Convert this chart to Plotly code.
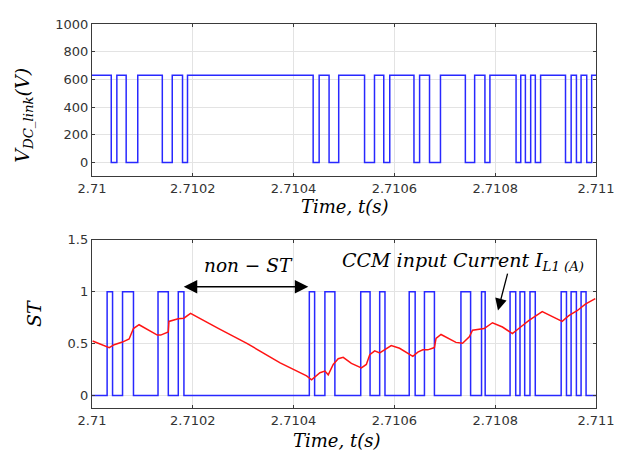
import plotly.graph_objects as go

# ---------------- data ----------------
T_START = 2.71
T_END = 2.711

# Top panel: DC-link voltage drops to 0 during these intervals (s)
VDC_LOW_START = [2.7100382, 2.7100678, 2.7101395, 2.7101796, 2.7104388, 2.7104704,
                 2.7105408, 2.7105789, 2.7106388, 2.7106697, 2.7107408, 2.7107796,
                 2.7108414, 2.7108599, 2.7108796, 2.7109395, 2.7109612, 2.7109816]
VDC_LOW_END = [2.7100493, 2.7100908, 2.7101592, 2.7101895, 2.7104507, 2.7104895,
               2.7105605, 2.7105908, 2.7106500, 2.7106914, 2.7107592, 2.7107895,
               2.7108507, 2.7108704, 2.7108901, 2.7109507, 2.7109704, 2.7109914]
VDC_HIGH = 630
VDC_LOW = 0

# Bottom panel: shoot-through (ST) pulses (s)
ST_ON = [2.7100300, 2.7100606, 2.7101310, 2.7101712, 2.7104312, 2.7104621,
         2.7105332, 2.7105708, 2.7106294, 2.7106596, 2.7107320, 2.7107729,
         2.7108295, 2.7108492, 2.7108690, 2.7109309, 2.7109506, 2.7109704]
ST_OFF = [2.7100408, 2.7100823, 2.7101514, 2.7101824, 2.7104417, 2.7104819,
          2.7105517, 2.7105813, 2.7106412, 2.7106794, 2.7107512, 2.7107801,
          2.7108407, 2.7108585, 2.7108795, 2.7109414, 2.7109611, 2.7109803]

# CCM input current I_L1 (A), vertices
I_T = [2.7100012, 2.7100342, 2.7100440, 2.7100604, 2.7100737, 2.7100822, 2.7100934,
       2.7101296, 2.7101363, 2.7101513, 2.7101527, 2.7101710, 2.7101823, 2.7101955,
       2.7102514, 2.7103073, 2.7103733, 2.7104258, 2.7104357, 2.7104456, 2.7104523,
       2.7104622, 2.7104687, 2.7104786, 2.7104885, 2.7104984, 2.7105147, 2.7105345,
       2.7105443, 2.7105511, 2.7105609, 2.7105708, 2.7105807, 2.7105937, 2.7106103,
       2.7106366, 2.7106465, 2.7106563, 2.7106662, 2.7106794, 2.7106826, 2.7106925,
       2.7107221, 2.7107353, 2.7107486, 2.7107551, 2.7107782, 2.7107946, 2.7108144,
       2.7108341, 2.7108505, 2.7108671, 2.7108933, 2.7109164, 2.7109328, 2.7109461,
       2.7109625, 2.7109789, 2.7109986]
I_V = [0.525, 0.462, 0.490, 0.515, 0.544, 0.645, 0.682,
       0.582, 0.582, 0.613, 0.714, 0.739, 0.745, 0.792,
       0.645, 0.503, 0.314, 0.189, 0.151, 0.189, 0.220,
       0.236, 0.200, 0.300, 0.355, 0.368, 0.310, 0.267,
       0.300, 0.393, 0.430, 0.410, 0.440, 0.481, 0.455,
       0.377, 0.418, 0.440, 0.440, 0.462, 0.550, 0.588,
       0.512, 0.503, 0.566, 0.629, 0.645, 0.701, 0.660,
       0.597, 0.660, 0.723, 0.808, 0.755, 0.714, 0.770,
       0.817, 0.880, 0.934]

X_TICKS = [2.71, 2.7102, 2.7104, 2.7106, 2.7108, 2.711]
X_TICK_TEXT = ["2.71", "2.7102", "2.7104", "2.7106", "2.7108", "2.711"]
Y1_TICKS = [0, 200, 400, 600, 800, 1000]
Y2_TICKS = [0, 0.5, 1, 1.5]
Y2_TICK_TEXT = ["0", "0.5", "1", "1.5"]

# ---------------- build step waveforms ----------------
vx = [T_START]
vy = [VDC_HIGH]
for a, b in zip(VDC_LOW_START, VDC_LOW_END):
    vx += [a, b]
    vy += [VDC_LOW, VDC_HIGH]
vx.append(T_END)
vy.append(VDC_HIGH)

sx = [T_START]
sy = [0]
for a, b in zip(ST_ON, ST_OFF):
    sx += [a, b]
    sy += [1, 0]
sx.append(T_END)
sy.append(0)

BLUE = "rgb(40,40,255)"
RED = "rgb(255,20,20)"

fig = go.Figure()
fig.add_trace(go.Scatter(x=vx, y=vy, mode="lines", line=dict(color=BLUE, width=1.5, shape="hv"),
                         xaxis="x", yaxis="y", showlegend=False))
fig.add_trace(go.Scatter(x=sx, y=sy, mode="lines", line=dict(color=BLUE, width=1.5, shape="hv"),
                         xaxis="x2", yaxis="y2", showlegend=False))
fig.add_trace(go.Scatter(x=I_T, y=I_V, mode="lines", line=dict(color=RED, width=1.5),
                         xaxis="x2", yaxis="y2", showlegend=False))

TICKFONT = dict(family="DejaVu Sans", size=13, color="#333333")
SERIF = "DejaVu Serif"
axis_common = dict(showgrid=True, gridcolor="#e3e3e3", gridwidth=1, zeroline=False,
                   showline=True, linecolor="#3a3a3a", linewidth=1.3, mirror="ticks",
                   ticks="inside", ticklen=3, tickcolor="#3a3a3a", tickfont=TICKFONT)

# page body has an 8px margin, so the figure is sized/offset to compensate
fig.update_layout(
    width=616, height=454,
    paper_bgcolor="white", plot_bgcolor="white",
    margin=dict(l=84, r=25, t=9, b=54),
    xaxis=dict(domain=[0, 1], anchor="y", range=[T_START, T_END], tickvals=X_TICKS,
               ticktext=X_TICK_TEXT, **axis_common),
    yaxis=dict(domain=[0.6036, 1], anchor="x", range=[-100, 1000], tickvals=Y1_TICKS,
               **axis_common),
    xaxis2=dict(domain=[0, 1], anchor="y2", range=[T_START, T_END], tickvals=X_TICKS,
                ticktext=X_TICK_TEXT, **axis_common),
    yaxis2=dict(domain=[0, 0.438], anchor="x2", range=[-0.12, 1.5], tickvals=Y2_TICKS,
                ticktext=Y2_TICK_TEXT, **axis_common),
)

TITLE_FONT = dict(family=SERIF, size=19, color="black", style="italic")
XT_FONT = dict(family=SERIF, size=18, color="black", style="italic")
ann = [
    dict(text="V<sub>DC_link</sub>(V)", xref="paper", yref="paper", x=(23 - 92) / 507,
         y=(408 - 110) / 391, textangle=-90, showarrow=False, font=TITLE_FONT,
         xanchor="center", yanchor="middle"),
    dict(text="ST", xref="paper", yref="paper", x=(33 - 92) / 507, y=(408 - 312) / 391,
         textangle=-90, showarrow=False, font=TITLE_FONT, xanchor="center", yanchor="middle"),
    dict(text="Time, t(s)", xref="paper", yref="paper", x=(346 - 92) / 507,
         y=(408 - 203) / 391, showarrow=False, font=XT_FONT, xanchor="center", yanchor="middle"),
    dict(text="Time, t(s)", xref="paper", yref="paper", x=(338 - 92) / 507,
         y=(408 - 441) / 391, showarrow=False, font=XT_FONT, xanchor="center", yanchor="middle"),
    dict(text="non − ST", xref="x2", yref="y2", x=2.7103106, y=1.255, showarrow=False,
         font=dict(family=SERIF, size=18.5, color="black", style="italic")),
    dict(text="CCM input Current I<sub>L1 (A)</sub>", xref="x2", yref="y2", x=2.7107353, y=1.29,
         showarrow=False, font=dict(family=SERIF, size=19, color="black", style="italic")),
    # double arrow for non-ST
    dict(text="", xref="x2", yref="y2", axref="x2", ayref="y2",
         x=2.7104292, y=1.047, ax=2.7101790, ay=1.047, showarrow=True,
         arrowside="end+start", arrowhead=2, startarrowhead=2,
         arrowsize=1.8, startarrowsize=1.8, arrowwidth=1.5, arrowcolor="black"),
    # pointer to current trace
    dict(text="", xref="x2", yref="y2", axref="x2", ayref="y2",
         x=2.7108055, y=0.82, ax=2.7108253, ay=1.189, showarrow=True,
         arrowhead=2, arrowsize=1.8, arrowwidth=1.3, arrowcolor="black"),
]
fig.update_layout(annotations=ann)

fig.write_html("out.html")
